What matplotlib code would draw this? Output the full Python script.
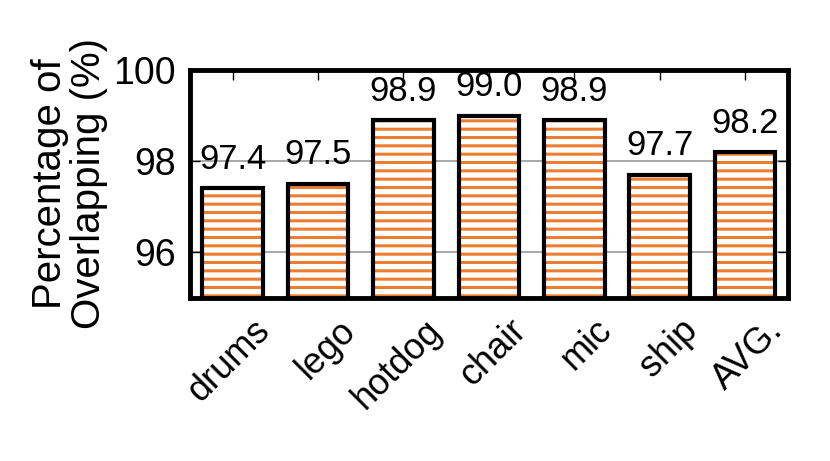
import numpy as np
import matplotlib
matplotlib.use("Agg")
import matplotlib.pyplot as plt
import matplotlib.transforms as mtransforms

# data
scenes = ["drums", "lego", "hotdog", "chair", "mic", "ship", "AVG."]
overlap = [97.4, 97.5, 98.9, 99.0, 98.9, 97.7, 98.2]
yticks = [96, 98, 100]

plt.rcParams["font.family"] = ["Liberation Sans", "DejaVu Sans"]
plt.rcParams["hatch.linewidth"] = 2.2

fig = plt.figure(figsize=(8.3, 4.61), dpi=100)
ax = fig.add_axes([0.229, 0.354, 0.72, 0.494])

x = np.arange(len(scenes))
ax.yaxis.grid(True, color="#999999", linewidth=1.2)
ax.set_axisbelow(True)
# orange hatch first (hatch takes the edge colour), then black outlines on top
ax.bar(x, overlap, width=0.71, color="white", edgecolor="#ED7D31",
       linewidth=0, hatch="--", zorder=3)
ax.bar(x, overlap, width=0.71, fill=False, edgecolor="black",
       linewidth=3, zorder=4)

for xi, v in zip(x, overlap):
    ax.annotate(f"{v:.1f}", (xi, v), xytext=(0, 9), textcoords="offset points",
                ha="center", va="bottom", fontsize=25)

ax.set_xlim(-0.5, len(scenes) - 0.5)
ax.set_ylim(95, 100)
ax.set_yticks(yticks)
ax.set_xticks(x)
ax.set_xticklabels([])
# rotated category labels, nudged right of the tick like the original
trans = ax.get_xaxis_transform() + mtransforms.ScaledTranslation(
    0.2, -0.15, fig.dpi_scale_trans)
for xi, name in zip(x, scenes):
    ax.text(xi, 0, name, transform=trans, rotation=45, ha="right", va="top",
            rotation_mode="anchor", fontsize=26)

ax.tick_params(axis="y", labelsize=27, direction="in", length=7, width=1,
               right=True, pad=10)
ax.tick_params(axis="x", direction="in", length=7, width=1, top=True)
for s in ax.spines.values():
    s.set_linewidth(3.5)
    s.set_zorder(5)

ax.set_ylabel("Percentage of\nOverlapping (%)", fontsize=29, labelpad=4,
              linespacing=1.05)

fig.savefig("out.png", dpi=100)
